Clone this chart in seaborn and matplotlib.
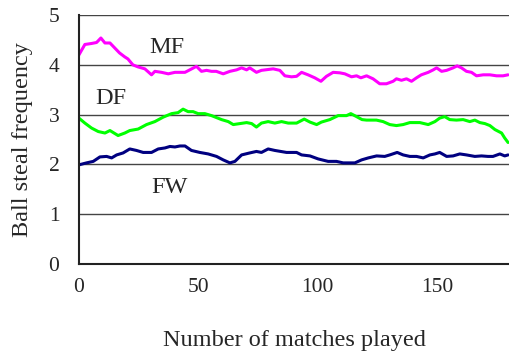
import matplotlib
matplotlib.use("Agg")
import matplotlib.pyplot as plt
import seaborn as sns

# values
mf_x = [0, 2.5, 5.3, 7.4, 9.2, 10.9, 13, 15, 17, 19.2, 20.5, 22.6, 24.7, 27.6, 30.4,
        31.8, 34.6, 37.4, 40.2, 44.4, 46.4, 49.2, 51.3, 53.4, 55.5, 57.5, 60.4, 63.2, 66, 68.1,
        70.2, 71.5, 74.3, 76.4, 81.3, 84.1, 86.2, 89, 91.1, 93.2, 95.9, 98.7, 101.3, 103.6, 106.4,
        109.2, 111.3, 114.1, 116.2, 118, 120.4, 123.1, 125.9, 128.7, 131.5, 132.9, 135, 137.1, 139.2, 141.3,
        143.3, 146.2, 148.3, 149.7, 151.8, 153.9, 156.6, 158.3, 160.1, 162.2, 164.3, 166.4, 169.2, 172, 174.8,
        177.5, 179.6]
mf_y = [4.20, 4.41, 4.43, 4.45, 4.54, 4.44, 4.44, 4.34, 4.24, 4.16, 4.12, 4.00, 3.96, 3.92, 3.80,
        3.87, 3.85, 3.82, 3.85, 3.85, 3.90, 3.97, 3.87, 3.89, 3.87, 3.87, 3.82, 3.87, 3.90, 3.94,
        3.90, 3.94, 3.85, 3.89, 3.92, 3.89, 3.78, 3.76, 3.77, 3.85, 3.80, 3.74, 3.67, 3.77, 3.85,
        3.84, 3.82, 3.76, 3.78, 3.74, 3.78, 3.72, 3.62, 3.62, 3.67, 3.72, 3.69, 3.72, 3.67, 3.74,
        3.80, 3.85, 3.90, 3.94, 3.87, 3.89, 3.94, 3.98, 3.94, 3.87, 3.85, 3.78, 3.80, 3.80, 3.78,
        3.78, 3.80]

df_x = [0, 2.5, 5.3, 8.1, 10.9, 13, 16.4, 19.2, 21.3, 24.8, 28.3, 31.8, 35.3, 38.8, 41.5,
        43.6, 45.7, 47.8, 49.9, 52.7, 55.5, 59.7, 62.5, 64.6, 67.4, 70.2, 72.3, 74.3, 76.4, 79.2,
        82, 84.8, 87.6, 91.1, 94.3, 96.7, 99.5, 101.5, 105, 108.5, 112, 113.8, 116.2, 118.5, 120.4,
        124.5, 127.3, 130.1, 132.9, 135.7, 138.5, 142.7, 146.2, 149, 151, 153.1, 155.2, 158, 160.8, 163.6,
        165.7, 167.8, 169.9, 172, 174.1, 176.9, 178.2, 179.6]
df_y = [2.93, 2.83, 2.73, 2.66, 2.63, 2.68, 2.58, 2.63, 2.68, 2.71, 2.80, 2.86, 2.95, 3.02, 3.04,
        3.11, 3.06, 3.06, 3.02, 3.02, 2.98, 2.90, 2.86, 2.80, 2.82, 2.84, 2.82, 2.75, 2.83, 2.86,
        2.83, 2.86, 2.83, 2.83, 2.91, 2.85, 2.80, 2.85, 2.90, 2.98, 2.98, 3.02, 2.96, 2.90, 2.89,
        2.89, 2.86, 2.80, 2.78, 2.80, 2.84, 2.84, 2.80, 2.86, 2.93, 2.96, 2.90, 2.89, 2.90, 2.86,
        2.89, 2.84, 2.82, 2.78, 2.70, 2.63, 2.53, 2.44]

fw_x = [0, 3.2, 6, 8.8, 11.6, 13.7, 15.8, 18.5, 21.3, 24.1, 26.9, 30.4, 33.2, 36, 38.1,
        40.2, 42.3, 44.4, 47.1, 50.6, 54.1, 57.6, 60.4, 63.2, 65.3, 68.1, 71.5, 74.3, 76.4, 79.2,
        82, 86.9, 89, 91.1, 93.2, 96.7, 100.1, 104.3, 107.8, 110.6, 115.5, 118.3, 121.1, 124.6, 128,
        130.1, 133.2, 135.7, 138.5, 141.3, 144.1, 146.9, 149, 151, 153.9, 156.6, 159.4, 162.2, 165.7, 168.5,
        171.2, 173.3, 176.2, 178.2, 179.6]
fw_y = [1.99, 2.03, 2.06, 2.15, 2.16, 2.13, 2.19, 2.23, 2.31, 2.28, 2.24, 2.24, 2.31, 2.33, 2.36,
        2.35, 2.37, 2.37, 2.28, 2.24, 2.21, 2.16, 2.09, 2.03, 2.06, 2.19, 2.23, 2.26, 2.24, 2.31,
        2.28, 2.24, 2.24, 2.24, 2.19, 2.17, 2.11, 2.06, 2.06, 2.03, 2.03, 2.09, 2.13, 2.17, 2.16,
        2.19, 2.24, 2.19, 2.16, 2.16, 2.13, 2.19, 2.21, 2.24, 2.16, 2.17, 2.21, 2.19, 2.16, 2.17,
        2.16, 2.16, 2.21, 2.17, 2.19]

x_ticks = [0, 50, 100, 150]
y_ticks = [0, 1, 2, 3, 4, 5]

sns.set_style("white")
plt.rcParams['font.family'] = ['Liberation Serif', 'DejaVu Serif']

fig = plt.figure(figsize=(5.09, 3.6), dpi=100)
ax = fig.add_axes([0.155, 0.267, 0.845, 0.691])

sns.lineplot(x=mf_x, y=mf_y, color="#ff00ff", lw=2.2, ax=ax)
sns.lineplot(x=df_x, y=df_y, color="#00ff00", lw=2.2, ax=ax)
sns.lineplot(x=fw_x, y=fw_y, color="#000080", lw=2.2, ax=ax)

ax.text(37, 4.35, "MF", ha="center", va="center", fontsize=17.5)
ax.text(13.5, 3.32, "DF", ha="center", va="center", fontsize=17.5)
ax.text(38, 1.53, "FW", ha="center", va="center", fontsize=17.5)

ax.set_xlim(0, 180)
ax.set_ylim(0, 5)
ax.set_xticks(x_ticks)
ax.set_yticks(y_ticks)
ax.yaxis.grid(True, color="#444444", lw=1)
ax.set_axisbelow(True)
for s in ["top", "right"]:
    ax.spines[s].set_visible(False)
for s in ["left", "bottom"]:
    ax.spines[s].set_color("#222222")
    ax.spines[s].set_linewidth(1.5)
ax.tick_params(axis="both", direction="in", length=5, width=1, labelsize=15.5, color="#222222")
ax.tick_params(axis="y", pad=14)
ax.tick_params(axis="x", pad=10)

ax.set_xlabel("Number of matches played", fontsize=17.5, labelpad=24)
ax.set_ylabel("Ball steal frequency", fontsize=17.5, labelpad=11)

fig.savefig("out.png", dpi=100)
